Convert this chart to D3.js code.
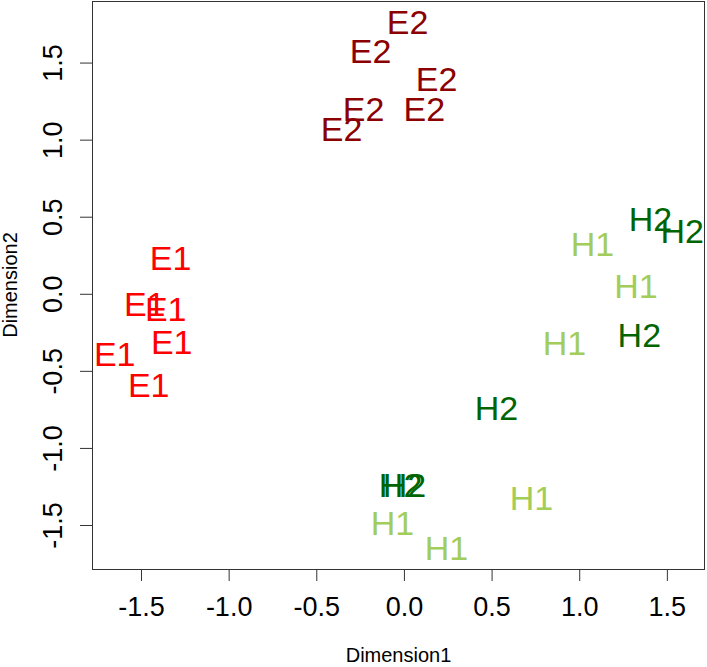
<!DOCTYPE html>
<html>
<head>
<meta charset="utf-8">
<script src="https://cdn.jsdelivr.net/npm/d3@7"></script>
<style>
  body { margin: 0; background: #fff; }
  text { font-family: "Liberation Sans", Arial, Helvetica, sans-serif; }
</style>
</head>
<body>
<script>
// MDS coordinates, one array per group
const groups = ['E1', 'E2', 'H1', 'H2'];
const groupColors = ['#ff0000', '#8b0000', '#a2cd5a', '#006400'];

const e1Dim1 = [-1.331, -1.479, -1.359, -1.325, -1.650, -1.456];
const e1Dim2 = [0.234, -0.065, -0.097, -0.312, -0.390, -0.591];
const e2Dim1 = [0.021, -0.190, 0.186, -0.230, 0.116, -0.356];
const e2Dim2 = [1.763, 1.578, 1.396, 1.201, 1.201, 1.071];
const h1Dim1 = [1.075, 1.324, 0.916, 0.727, -0.065, 0.243];
const h1Dim2 = [0.325, 0.052, -0.318, -1.325, -1.487, -1.649];
const h2Dim1 = [1.406, 1.588, 1.343, 0.528, -0.019, 0.003];
const h2Dim2 = [0.484, 0.409, -0.266, -0.740, -1.240, -1.240];

const tickValues = [-1.5, -1.0, -0.5, 0.0, 0.5, 1.0, 1.5];
const xTitle = 'Dimension1';
const yTitle = 'Dimension2';

function main() {
  const width = 707;
  const height = 667;
  // plot region (px)
  const left = 92, right = 705, top = 1, bottom = 569;

  const dim1 = [e1Dim1, e2Dim1, h1Dim1, h2Dim1];
  const dim2 = [e1Dim2, e2Dim2, h1Dim2, h2Dim2];

  // flatten into points
  const points = [];
  groups.forEach((g, gi) => {
    dim1[gi].forEach((x, i) => {
      points.push({ label: g, color: groupColors[gi], x, y: dim2[gi][i] });
    });
  });

  // R style axis range: data extent plus 4% each side
  function padded(vals) {
    const [lo, hi] = d3.extent(vals);
    const pad = (hi - lo) * 0.04;
    return [lo - pad, hi + pad];
  }

  const x = d3.scaleLinear()
    .domain(padded(points.map(d => d.x)))
    .range([left, right]);
  const y = d3.scaleLinear()
    .domain(padded(points.map(d => d.y)))
    .range([bottom, top]);

  const svg = d3.select('body')
    .append('svg')
    .attr('width', width)
    .attr('height', height);

  const fmt = d => d.toFixed(1);

  // x axis
  const xAxis = svg.append('g')
    .attr('transform', `translate(0,${bottom})`)
    .call(d3.axisBottom(x).tickValues(tickValues).tickSize(12).tickFormat(fmt));
  xAxis.select('.domain').remove();
  xAxis.selectAll('line').attr('stroke', '#333');
  xAxis.selectAll('text')
    .attr('y', 47)
    .attr('dy', null)
    .attr('fill', '#000')
    .style('font-size', '27px');

  // y axis, labels rotated like R's default las = 0
  const yAxis = svg.append('g')
    .attr('transform', `translate(${left},0)`)
    .call(d3.axisLeft(y).tickValues(tickValues).tickSize(12).tickFormat(fmt));
  yAxis.select('.domain').remove();
  yAxis.selectAll('line').attr('stroke', '#333');
  yAxis.selectAll('text')
    .attr('x', null)
    .attr('y', null)
    .attr('dy', null)
    .attr('transform', 'translate(-30,0) rotate(-90)')
    .attr('text-anchor', 'middle')
    .attr('fill', '#000')
    .style('font-size', '27px');

  // plot box
  svg.append('rect')
    .attr('x', left + 0.5)
    .attr('y', top + 0.5)
    .attr('width', right - left - 1)
    .attr('height', bottom - top)
    .attr('fill', 'none')
    .attr('stroke', '#333')
    .attr('stroke-width', 1);

  // axis titles
  svg.append('text')
    .attr('x', (left + right) / 2)
    .attr('y', 662)
    .attr('text-anchor', 'middle')
    .style('font-size', '20px')
    .text(xTitle);

  svg.append('text')
    .attr('transform', `translate(17,${(top + bottom) / 2}) rotate(-90)`)
    .attr('text-anchor', 'middle')
    .style('font-size', '20px')
    .text(yTitle);

  // text labels are clipped to the plot region
  svg.append('clipPath')
    .attr('id', 'plot-clip')
    .append('rect')
    .attr('x', left)
    .attr('y', top)
    .attr('width', right - left)
    .attr('height', bottom - top);

  svg.append('g')
    .attr('clip-path', 'url(#plot-clip)')
    .selectAll('text')
    .data(points)
    .join('text')
    .attr('x', d => x(d.x))
    .attr('y', d => y(d.y))
    .attr('dy', '0.36em')
    .attr('text-anchor', 'middle')
    .attr('fill', d => d.color)
    .style('font-size', '34px')
    .text(d => d.label);
}

main();
</script>
</body>
</html>
